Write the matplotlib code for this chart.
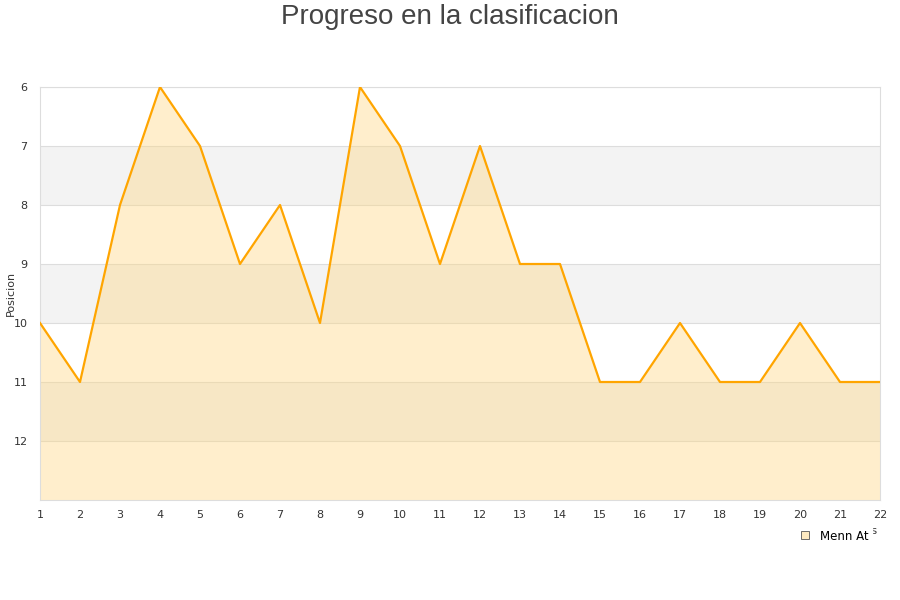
import matplotlib
matplotlib.use("Agg")
import matplotlib.pyplot as plt
from matplotlib.lines import Line2D

jornadas = list(range(1, 23))
posiciones = [10, 11, 8, 6, 7, 9, 8, 10, 6, 7, 9, 7, 9, 9, 11, 11, 10, 11, 11, 10, 11, 11]
equipo = "Menn At"
titulo = "Progreso en la clasificacion"
ylabel = "Posicion"
xlabel = "Jornadas"

fig = plt.figure(figsize=(9, 6), dpi=100)
ax = fig.add_axes([40/900, 1 - 500/600, 840/900, 413/600])

ymin, ymax = 6, 13
for b in [7, 9, 11]:
    ax.axhspan(b, b + 1, color="#f3f3f3", zorder=0, lw=0)
for y in range(6, 13):
    ax.axhline(y, color="#dddddd", lw=0.8, zorder=1)

ax.fill_between(jornadas, posiciones, ymax, color="#ffd680", alpha=0.4, lw=0, zorder=2)
ax.plot(jornadas, posiciones, color="#ffa500", lw=1.6, zorder=3)

ax.set_xlim(1, 22)
ax.set_ylim(ymax, ymin)
ax.set_xticks(jornadas)
ax.set_yticks(range(6, 13))
ax.tick_params(length=0, labelsize=8, colors="#333333")
ax.tick_params(axis="x", pad=7)
ax.tick_params(axis="y", pad=9)
for s in ax.spines.values():
    s.set_color("#dddddd")

fig.text(11/900, 1 - 293/600, ylabel, rotation=90, ha="center", va="center",
         fontsize=8, color="#333333")
fig.text(878/900, 1 - 531/600, xlabel, ha="right", va="center", fontsize=8, color="#333333")

fig.suptitle(titulo, x=0.5, y=1 - 17/600, va="center", fontsize=20,
             color="#444444", family="Liberation Sans")

handle = Line2D([], [], marker="s", ls="none", markersize=6,
                markerfacecolor="#fde9c0", markeredgecolor="#555555", markeredgewidth=0.6)
leg = fig.legend([handle], [equipo], loc="center", bbox_to_anchor=(831/900, 1 - 536/600),
                 frameon=True, fontsize=8.5, handletextpad=0.3, borderpad=0.3)
leg.get_frame().set_edgecolor("white")
leg.get_frame().set_facecolor("white")
leg.get_frame().set_alpha(1)
leg.set_zorder(10)

fig.savefig("out.png", dpi=100)
